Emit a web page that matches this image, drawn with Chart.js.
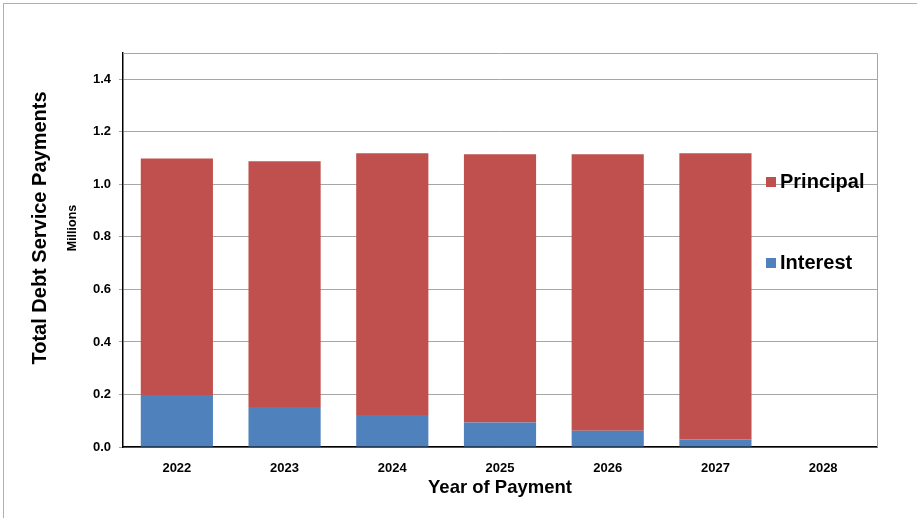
<!DOCTYPE html>
<html>
<head>
<meta charset="utf-8">
<script src="https://cdn.jsdelivr.net/npm/chart.js@4.4.0/dist/chart.umd.min.js"></script>
<style>
  html, body { margin: 0; padding: 0; background: #fff; overflow: hidden; }
  #wrap { position: relative; width: 917px; height: 518px; }
  #frame { position: absolute; left: 3px; top: 3px; width: 1000px; height: 1000px; border: 1px solid #b0b0b0; }
  canvas { position: absolute; left: 0; top: 0; }
</style>
</head>
<body>
<div id="wrap">
  <div id="frame"></div>
  <canvas id="debtChart" width="917" height="518"></canvas>
</div>
<script>
// values (millions)
const years = ['2022', '2023', '2024', '2025', '2026', '2027', '2028'];
const interest = [0.198, 0.152, 0.122, 0.093, 0.062, 0.029, 0];
const principal = [0.900, 0.936, 0.996, 1.022, 1.053, 1.089, 0];
const yTicks = [0, 0.2, 0.4, 0.6, 0.8, 1.0, 1.2, 1.4];

const RED = '#C0504D';
const BLUE = '#4F81BD';
const FONT = '"Liberation Sans", Arial, sans-serif';

// draws plot frame, y titles and the in-plot legend
const decorations = {
    id: 'decorations',
    afterDraw(chart) {
        const ctx = chart.ctx;
        const a = chart.chartArea;
        ctx.save();
        ctx.strokeStyle = '#a6a6a6';
        ctx.lineWidth = 1;
        ctx.beginPath();
        ctx.moveTo(a.left, a.top + 0.5);
        ctx.lineTo(a.right + 0.5, a.top + 0.5);
        ctx.lineTo(a.right + 0.5, a.bottom);
        ctx.stroke();

        ctx.fillStyle = '#000';
        ctx.textAlign = 'center';
        ctx.textBaseline = 'middle';
        ctx.translate(40, 228);
        ctx.rotate(-Math.PI / 2);
        ctx.font = 'bold 20px ' + FONT;
        ctx.fillText('Total Debt Service Payments', 0, 0);
        ctx.font = 'bold 12.5px ' + FONT;
        ctx.fillText('Millions', 0, 33);
        ctx.restore();

        // legend, principal above interest
        const items = [
            { label: chart.data.datasets[1].label, color: chart.data.datasets[1].backgroundColor, y: 182 },
            { label: chart.data.datasets[0].label, color: chart.data.datasets[0].backgroundColor, y: 263 }
        ];
        ctx.save();
        ctx.font = 'bold 20px ' + FONT;
        ctx.textAlign = 'left';
        ctx.textBaseline = 'middle';
        items.forEach(it => {
            ctx.fillStyle = it.color;
            ctx.fillRect(766, it.y - 5, 10, 10);
            ctx.fillStyle = '#000';
            ctx.fillText(it.label, 780, it.y);
        });
        ctx.restore();
    }
};

new Chart(document.getElementById('debtChart'), {
    type: 'bar',
    data: {
        labels: years,
        datasets: [
            { label: 'Interest', data: interest, backgroundColor: BLUE, borderWidth: 0 },
            { label: 'Principal', data: principal, backgroundColor: RED, borderWidth: 0 }
        ]
    },
    options: {
        responsive: false,
        animation: false,
        layout: { padding: { left: 0, top: 53, right: 40, bottom: 0 } },
        datasets: { bar: { categoryPercentage: 1.0, barPercentage: 0.67 } },
        plugins: {
            legend: { display: false },
            tooltip: { enabled: false }
        },
        scales: {
            x: {
                stacked: true,
                grid: { display: false },
                border: { display: true, color: '#000', width: 1.5 },
                ticks: { color: '#000', font: { family: FONT, size: 13, weight: 'bold' }, padding: 6 },
                title: {
                    display: true,
                    text: 'Year of Payment',
                    color: '#000',
                    font: { family: FONT, size: 18.5, weight: 'bold' },
                    padding: { top: 4, bottom: 19 }
                },
                afterFit(scale) { scale.height = 71; }
            },
            y: {
                stacked: true,
                min: 0,
                max: 1.5,
                afterBuildTicks(scale) { scale.ticks = yTicks.map(v => ({ value: v })); },
                grid: { color: '#a6a6a6', lineWidth: 1, tickLength: 4 },
                border: { display: true, color: '#000', width: 1.5 },
                ticks: {
                    color: '#000',
                    padding: 8,
                    font: { family: FONT, size: 13, weight: 'bold' },
                    callback: v => Number(v).toFixed(1)
                },
                afterFit(scale) { scale.width = 123; }
            }
        }
    },
    plugins: [decorations]
});
</script>
</body>
</html>
